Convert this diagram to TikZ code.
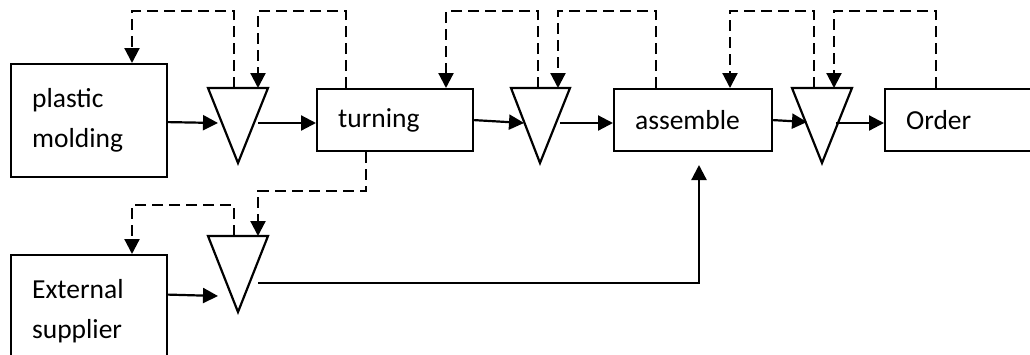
\documentclass[tikz,border=0pt]{standalone}
\usepackage{fontspec}
\setmainfont{Carlito}
\usetikzlibrary{arrows.meta}
\tikzset{
  proc/.style={draw, line width=2.2pt, anchor=north west, align=left,
    inner xsep=21pt, inner ysep=0pt, font=\fontsize{27.5}{40}\selectfont},
  flow/.style={line width=2.2pt, -{Triangle[length=15pt,width=15pt]}},
  info/.style={line width=2.2pt, dash pattern=on 11pt off 6pt,
    -{Triangle[length=15pt,width=15pt]}},
  buffer/.style={line width=2.2pt, line join=miter}
}
\begin{document}
\begin{tikzpicture}[x=1pt, y=-1pt]
\useasboundingbox (0,0) rectangle (1030,354);
\clip (0,0) rectangle (1030,354);

% process boxes
\node[proc, text width=114pt, minimum height=113pt] (plastic) at (10,63) {plastic\\molding};
\node[proc, text width=114pt, minimum height=62pt] (turning) at (316,88) {turning};
\node[proc, text width=116pt, minimum height=62pt] (assemble) at (613,88) {assemble};
\node[proc, text width=114pt, minimum height=62pt] (order) at (884,88) {Order};
\node[proc, text width=114pt, minimum height=113pt] (external) at (10,254) {External\\supplier};

% inventory triangles
\coordinate (b1a) at (208,88); \coordinate (b1b) at (268,88); \coordinate (b1c) at (238,163);
\coordinate (b2a) at (511,88); \coordinate (b2b) at (570,88); \coordinate (b2c) at (540,163);
\coordinate (b3a) at (792,88); \coordinate (b3b) at (852,88); \coordinate (b3c) at (822,163);
\coordinate (b4a) at (208,236); \coordinate (b4b) at (268,236); \coordinate (b4c) at (238,312);
\draw[buffer] (b1a) -- (b1b) -- (b1c) -- cycle;
\draw[buffer] (b2a) -- (b2b) -- (b2c) -- cycle;
\draw[buffer] (b3a) -- (b3b) -- (b3c) -- cycle;
\draw[buffer] (b4a) -- (b4b) -- (b4c) -- cycle;

% connection points on the triangles
\coordinate (b1in) at (218,123); \coordinate (b1out) at (258,123);
\coordinate (b2in) at (524,123); \coordinate (b2out) at (560,123);
\coordinate (b3in) at (807,122); \coordinate (b3out) at (836,123);
\coordinate (b4in) at (218,296); \coordinate (b4out) at (258,283);
\coordinate (b1top1) at (234,88); \coordinate (b1top2) at (258,88);
\coordinate (b2top1) at (538,88); \coordinate (b2top2) at (558,88);
\coordinate (b3top1) at (814,88); \coordinate (b3top2) at (834,88);
\coordinate (b4top1) at (234,236); \coordinate (b4top2) at (258,236);
\coordinate (feed) at (699,165);

% material flow
\draw[flow] ([yshift=-1.5pt]plastic.east) -- (b1in);
\draw[flow] (b1out) -- (b1out -| turning.west);
\draw[flow] (turning.east) -- (b2in);
\draw[flow] (b2out) -- (b2out -| assemble.west);
\draw[flow] (assemble.east) -- (b3in);
\draw[flow] (b3out) -- (b3out -| order.west);
\draw[flow] ([yshift=17pt]external.east) -- (b4in);
\draw[flow] (b4out) -| (feed);

% kanban signals
\draw[info] (b1top1) -- (234,11) -| (plastic.north -| 132,0);
\draw[info] (turning.north -| 346,0) -- (346,11) -| (b1top2);
\draw[info] (b2top1) -- (538,11) -| (turning.north -| 446,0);
\draw[info] (assemble.north -| 656,0) -- (656,11) -| (b2top2);
\draw[info] (b3top1) -- (814,11) -| (assemble.north -| 730,0);
\draw[info] (order.north -| 936,0) -- (936,11) -| (b3top2);
\draw[info] (b4top1) -- (234,205) -| (external.north -| 132,0);
\draw[info] (turning.south -| 366,0) -- (366,191) -| (b4top2);
\end{tikzpicture}
\end{document}
